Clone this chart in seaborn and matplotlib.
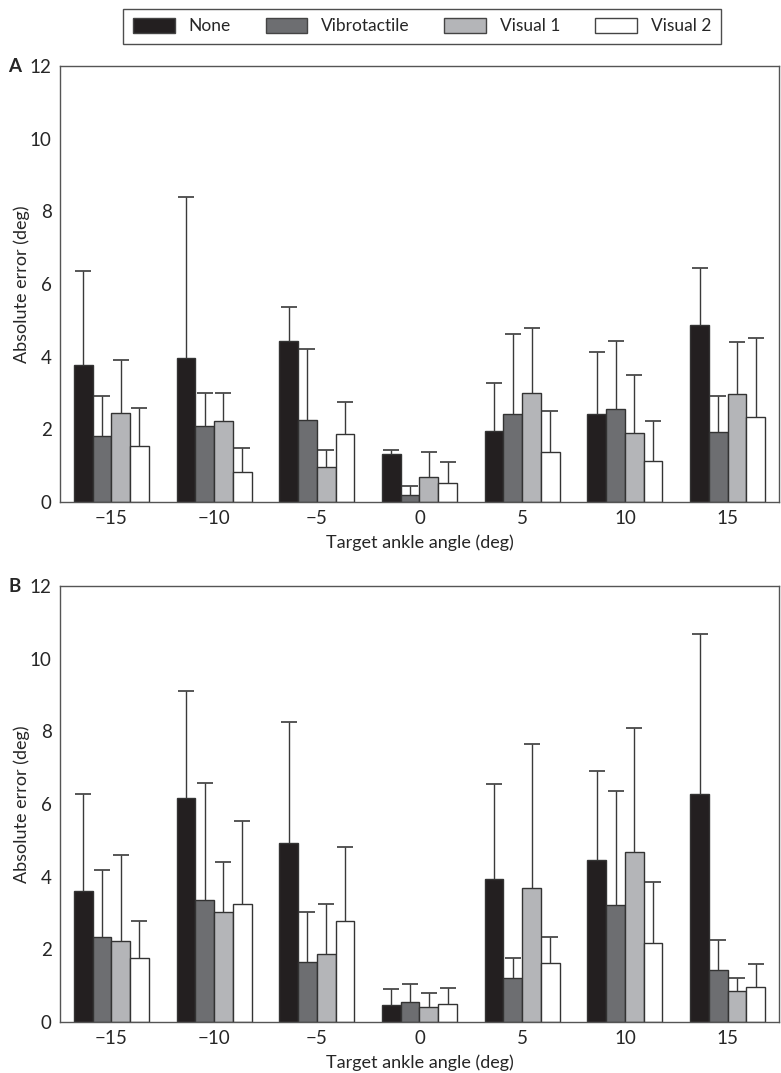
import numpy as np
import pandas as pd
import matplotlib
matplotlib.use("Agg")
import matplotlib.pyplot as plt
import seaborn as sns

# target ankle angles (deg) and feedback conditions
angles = ["\u221215", "\u221210", "\u22125", "0", "5", "10", "15"]
conditions = ["None", "Vibrotactile", "Visual 1", "Visual 2"]

# panel A: mean absolute error and top of error bar (deg)
a_none = [3.77, 3.95, 4.44, 1.31, 1.96, 2.43, 4.86]
a_none_top = [6.37, 8.40, 5.38, 1.44, 3.27, 4.13, 6.43]
a_vibro = [1.82, 2.10, 2.26, 0.20, 2.42, 2.57, 1.92]
a_vibro_top = [2.92, 2.99, 4.22, 0.45, 4.63, 4.42, 2.91]
a_vis1 = [2.44, 2.23, 0.95, 0.70, 3.01, 1.89, 2.96]
a_vis1_top = [3.91, 3.01, 1.42, 1.38, 4.80, 3.50, 4.41]
a_vis2 = [1.54, 0.83, 1.87, 0.53, 1.38, 1.14, 2.34]
a_vis2_top = [2.59, 1.49, 2.76, 1.09, 2.51, 2.23, 4.51]

# panel B
b_none = [3.60, 6.17, 4.94, 0.46, 3.93, 4.47, 6.28]
b_none_top = [6.27, 9.10, 8.25, 0.92, 6.54, 6.92, 10.67]
b_vibro = [2.34, 3.36, 1.64, 0.54, 1.20, 3.21, 1.43]
b_vibro_top = [4.17, 6.57, 3.02, 1.05, 1.76, 6.36, 2.27]
b_vis1 = [2.24, 3.02, 1.87, 0.40, 3.70, 4.68, 0.86]
b_vis1_top = [4.61, 4.41, 3.26, 0.80, 7.64, 8.10, 1.22]
b_vis2 = [1.77, 3.26, 2.77, 0.49, 1.63, 2.18, 0.97]
b_vis2_top = [2.79, 5.54, 4.83, 0.94, 2.35, 3.85, 1.61]

palette = {"None": "#231f20", "Vibrotactile": "#6d6e71",
           "Visual 1": "#b4b5b8", "Visual 2": "#ffffff"}

sns.set_theme(style="white")
plt.rcParams["font.family"] = ["Lato", "DejaVu Sans"]
plt.rcParams["font.size"] = 12


def build_frame(means, tops):
    rows = []
    for cond, m, t in zip(conditions, means, tops):
        for ang, v, u in zip(angles, m, t):
            rows.append({"angle": ang, "condition": cond, "error": v, "top": u})
    return pd.DataFrame(rows)


def draw_panel(ax, df, letter):
    sns.barplot(data=df, x="angle", y="error", hue="condition",
                order=angles, hue_order=conditions, palette=palette,
                width=0.73, errorbar=None, edgecolor="#333333",
                linewidth=1.0, saturation=1, ax=ax, legend=False)
    for cont, cond in zip(ax.containers, conditions):
        sub = df[df["condition"] == cond].set_index("angle").loc[angles]
        xs = [b.get_x() + b.get_width() / 2 for b in cont]
        hs = sub["error"].values
        up = sub["top"].values - hs
        eb = ax.errorbar(xs, hs, yerr=[np.zeros_like(up), up], fmt="none",
                         ecolor="#3a3a3a", elinewidth=1.0, capsize=5.5,
                         capthick=1.2, zorder=1)
        # only the upper cap is drawn in the original
        eb.lines[1][0].set_visible(False)
    ax.set_ylim(0, 12)
    ax.set_yticks([0, 2, 4, 6, 8, 10, 12])
    ax.set_xlim(-0.5, 6.5)
    ax.tick_params(length=0, labelsize=13.5, pad=6)
    ax.set_ylabel("Absolute error (deg)", fontsize=13, labelpad=0)
    ax.set_xlabel("Target ankle angle (deg)", fontsize=13, labelpad=5)
    for s in ax.spines.values():
        s.set_color("#555555")
        s.set_linewidth(1.0)
    ax.text(-0.072, 1.0, letter, transform=ax.transAxes, fontsize=13.5,
            fontweight="bold", ha="left", va="center")


fig = plt.figure(figsize=(7.81, 10.73), dpi=100)
ax_a = fig.add_axes([60 / 781, (1073 - 502) / 1073, 719 / 781, 436 / 1073])
ax_b = fig.add_axes([60 / 781, (1073 - 1022) / 1073, 719 / 781, 436 / 1073])

df_a = build_frame([a_none, a_vibro, a_vis1, a_vis2],
                   [a_none_top, a_vibro_top, a_vis1_top, a_vis2_top])
df_b = build_frame([b_none, b_vibro, b_vis1, b_vis2],
                   [b_none_top, b_vibro_top, b_vis1_top, b_vis2_top])

draw_panel(ax_a, df_a, "A")
draw_panel(ax_b, df_b, "B")

handles = [plt.Rectangle((0, 0), 1, 1, facecolor=palette[c], edgecolor="#444444",
                         linewidth=1.0) for c in conditions]
leg = fig.legend(handles, conditions, ncol=4, loc="upper center",
                 bbox_to_anchor=(422 / 781, 1.0), frameon=True, fancybox=False,
                 edgecolor="#222222", fontsize=12.5, handlelength=2.4,
                 handleheight=0.9, handletextpad=0.8, columnspacing=2.0,
                 borderpad=0.55)
leg.get_frame().set_linewidth(1.0)

fig.savefig("out.png", dpi=100)
